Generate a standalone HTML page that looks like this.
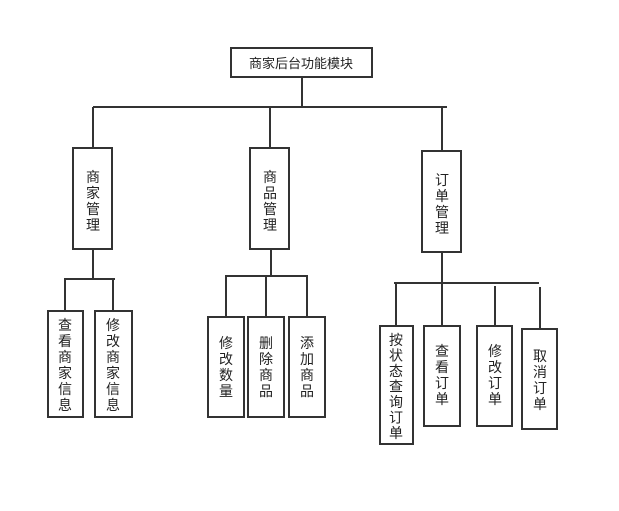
<!DOCTYPE html>
<html><head><meta charset="utf-8"><style>
body{margin:0;background:#fff}
svg text{font-family:"Liberation Sans","Noto Sans CJK SC",sans-serif;font-size:14px;fill:#222}
</style></head><body>
<svg width="619" height="506" viewBox="0 0 619 506" xmlns="http://www.w3.org/2000/svg">
<g stroke="#333" stroke-width="2" fill="none">
<rect x="231" y="48" width="141" height="29"/>
<line x1="302" y1="77" x2="302" y2="107"/>
<line x1="93" y1="107" x2="447" y2="107"/>
<line x1="93" y1="107" x2="93" y2="148"/>
<line x1="270" y1="107" x2="270" y2="148"/>
<line x1="442" y1="107" x2="442" y2="151"/>
<rect x="73" y="148" width="39" height="101"/>
<rect x="250" y="148" width="39" height="101"/>
<rect x="422" y="151" width="39" height="101"/>
<line x1="93" y1="249" x2="93" y2="279"/>
<line x1="64" y1="279" x2="115" y2="279"/>
<line x1="65" y1="279" x2="65" y2="311"/>
<line x1="113" y1="279" x2="113" y2="311"/>
<rect x="48" y="311" width="35" height="106"/>
<rect x="95" y="311" width="37" height="106"/>
<line x1="271" y1="249" x2="271" y2="276"/>
<line x1="225" y1="276" x2="308" y2="276"/>
<line x1="226" y1="276" x2="226" y2="317"/>
<line x1="266" y1="276" x2="266" y2="317"/>
<line x1="307" y1="276" x2="307" y2="317"/>
<rect x="208" y="317" width="36" height="100"/>
<rect x="248" y="317" width="36" height="100"/>
<rect x="289" y="317" width="36" height="100"/>
<line x1="442" y1="252" x2="442" y2="283"/>
<line x1="394" y1="283" x2="539" y2="283"/>
<line x1="396" y1="283" x2="396" y2="326"/>
<line x1="442" y1="283" x2="442" y2="326"/>
<line x1="495" y1="286" x2="495" y2="326"/>
<line x1="540" y1="287" x2="540" y2="329"/>
<rect x="380" y="326" width="33" height="118"/>
<rect x="424" y="326" width="36" height="100"/>
<rect x="477" y="326" width="35" height="100"/>
<rect x="522" y="329" width="35" height="100"/>
</g>
<g text-anchor="middle">
<text x="301" y="68" style="font-size:13px">商家后台功能模块</text>
<text><tspan x="93" y="182">商</tspan><tspan x="93" y="198">家</tspan><tspan x="93" y="214">管</tspan><tspan x="93" y="230">理</tspan></text>
<text><tspan x="270" y="182">商</tspan><tspan x="270" y="198">品</tspan><tspan x="270" y="214">管</tspan><tspan x="270" y="230">理</tspan></text>
<text><tspan x="442" y="185">订</tspan><tspan x="442" y="201">单</tspan><tspan x="442" y="217">管</tspan><tspan x="442" y="233">理</tspan></text>
<text><tspan x="65" y="330">查</tspan><tspan x="65" y="346">看</tspan><tspan x="65" y="362">商</tspan><tspan x="65" y="378">家</tspan><tspan x="65" y="394">信</tspan><tspan x="65" y="410">息</tspan></text>
<text><tspan x="113" y="330">修</tspan><tspan x="113" y="346">改</tspan><tspan x="113" y="362">商</tspan><tspan x="113" y="378">家</tspan><tspan x="113" y="394">信</tspan><tspan x="113" y="410">息</tspan></text>
<text><tspan x="226" y="348">修</tspan><tspan x="226" y="364">改</tspan><tspan x="226" y="380">数</tspan><tspan x="226" y="396">量</tspan></text>
<text><tspan x="266" y="348">删</tspan><tspan x="266" y="364">除</tspan><tspan x="266" y="380">商</tspan><tspan x="266" y="396">品</tspan></text>
<text><tspan x="307" y="348">添</tspan><tspan x="307" y="364">加</tspan><tspan x="307" y="380">商</tspan><tspan x="307" y="396">品</tspan></text>
<text><tspan x="396" y="345">按</tspan><tspan x="396" y="360.5">状</tspan><tspan x="396" y="376">态</tspan><tspan x="396" y="391.5">查</tspan><tspan x="396" y="407">询</tspan><tspan x="396" y="422.5">订</tspan><tspan x="396" y="438">单</tspan></text>
<text><tspan x="442" y="356">查</tspan><tspan x="442" y="372">看</tspan><tspan x="442" y="388">订</tspan><tspan x="442" y="404">单</tspan></text>
<text><tspan x="495" y="356">修</tspan><tspan x="495" y="372">改</tspan><tspan x="495" y="388">订</tspan><tspan x="495" y="404">单</tspan></text>
<text><tspan x="540" y="361">取</tspan><tspan x="540" y="377">消</tspan><tspan x="540" y="393">订</tspan><tspan x="540" y="409">单</tspan></text>
</g>
</svg>
</body></html>
